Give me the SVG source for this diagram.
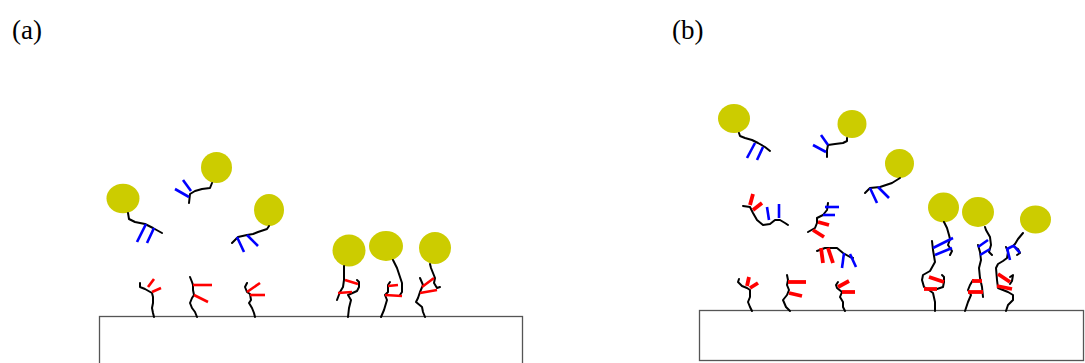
<svg xmlns="http://www.w3.org/2000/svg" width="1085" height="363" viewBox="0 0 1085 363">
  <style>
    .lbl { font-family: "Liberation Serif", "Times New Roman", serif; font-size: 27px; fill: #000; }
    .surf { fill: #fff; stroke: #555; stroke-width: 1.3; }
    .ball { fill: #cccc00; }
    .k { fill: none; stroke: #000; stroke-width: 2; stroke-linejoin: round; stroke-linecap: round; }
    .b { fill: none; stroke: #0000ff; stroke-width: 2.6; stroke-linecap: butt; }
    .r { fill: none; stroke: #ff0000; stroke-width: 2.6; stroke-linecap: butt; }
    .rt { fill: none; stroke: #ff0000; stroke-width: 3.8; stroke-linecap: butt; }
  </style>

  <!-- panel labels -->
  <text class="lbl" x="12" y="39">(a)</text>
  <text class="lbl" x="672" y="39">(b)</text>

  <!-- ===== panel (a) ===== -->
  <rect id="surface-a" class="surf" x="99.5" y="316.5" width="423" height="60"/>

  <!-- free labelled antibodies -->
  <g id="a-free-1">
    <ellipse class="ball" cx="123" cy="198.5" rx="16.5" ry="14.8"/>
    <polyline class="k" points="128,213 129,219 135,222 145,224 153,228 162,233"/>
    <line class="b" x1="146" y1="224" x2="137" y2="242"/>
    <line class="b" x1="154" y1="228" x2="147" y2="243"/>
  </g>
  <g id="a-free-2">
    <ellipse class="ball" cx="216.5" cy="167.5" rx="15.5" ry="15.5"/>
    <polyline class="k" points="212,183 210,188 202,189 195,191 190,194 189,203"/>
    <line class="b" x1="183" y1="180" x2="191" y2="191"/>
    <line class="b" x1="175" y1="189" x2="189" y2="197"/>
  </g>
  <g id="a-free-3">
    <ellipse class="ball" cx="269" cy="210" rx="15" ry="16"/>
    <polyline class="k" points="269,226 267,229 258,232 253,234 247,235 238,237 232,243"/>
    <line class="b" x1="237" y1="237" x2="244" y2="252"/>
    <line class="b" x1="247" y1="235" x2="258" y2="246"/>
  </g>

  <!-- immobilised capture molecules -->
  <g id="a-capture-1">
    <polyline class="k" points="140,283 140,287 145,289 152,293 153,297 153,303 152,308 153,313 154,317"/>
    <line class="r" x1="148" y1="287" x2="154" y2="279"/>
    <line class="r" x1="152" y1="292" x2="161" y2="288"/>
  </g>
  <g id="a-capture-2">
    <polyline class="k" points="190,277 192,282 193,285 193,290 194,295 192,298 190,303 192,308 195,312 197,317"/>
    <line class="r" x1="193" y1="285" x2="212" y2="285"/>
    <line class="r" x1="194" y1="295" x2="208" y2="302"/>
  </g>
  <g id="a-capture-3">
    <polyline class="k" points="247,283 245,287 247,292 250,294 251,300 249,303 252,308 254,313 255,317"/>
    <line class="r" x1="247" y1="292" x2="260" y2="283"/>
    <line class="r" x1="250" y1="295" x2="265" y2="295"/>
  </g>

  <!-- bound complexes -->
  <g id="a-bound-1">
    <ellipse class="ball" cx="349" cy="250.5" rx="16.5" ry="16"/>
    <polyline class="k" points="344,266 344,280 343,287 340,292 337,300"/>
    <polyline class="k" points="357,280 359,282 359,287 357,291 348,295 351,300 349,308 348,317"/>
    <line class="r" x1="345" y1="280" x2="358" y2="284"/>
    <line class="r" x1="338" y1="293" x2="352" y2="292"/>
  </g>
  <g id="a-bound-2">
    <ellipse class="ball" cx="386" cy="246" rx="17" ry="15"/>
    <polyline class="k" points="393,260 397,268 400,277 402,283 402,292 400,295"/>
    <polyline class="k" points="390,282 388,285 388,292 385,295 387,300 384,310 381,317"/>
    <line class="r" x1="388" y1="286" x2="398" y2="285"/>
    <line class="r" x1="385" y1="295" x2="402" y2="296"/>
  </g>
  <g id="a-bound-3">
    <ellipse class="ball" cx="435" cy="248" rx="16" ry="16"/>
    <polyline class="k" points="430,264 431,268 433,273 435,278 434,283 437,288 440,287"/>
    <polyline class="k" points="420,278 423,285 420,292 418,298 416,302 422,307 423,312 425,317"/>
    <line class="r" x1="422" y1="287" x2="434" y2="278"/>
    <line class="r" x1="420" y1="293" x2="437" y2="290"/>
  </g>

  <!-- ===== panel (b) ===== -->
  <rect id="surface-b" class="surf" x="699.5" y="310.5" width="384" height="50"/>

  <!-- free labelled antibodies -->
  <g id="b-free-1">
    <ellipse class="ball" cx="734" cy="118.5" rx="16" ry="14.5"/>
    <polyline class="k" points="739,133 740,136 745,138 752,140 758,143 765,147 770,151"/>
    <line class="b" x1="755" y1="143" x2="747" y2="158"/>
    <line class="b" x1="763" y1="147" x2="757" y2="160"/>
  </g>
  <g id="b-free-2">
    <ellipse class="ball" cx="852" cy="124" rx="14.5" ry="14"/>
    <polyline class="k" points="847,138 847,141 843,143 835,144 828,145 827,150 827,157"/>
    <line class="b" x1="821" y1="135" x2="828" y2="145"/>
    <line class="b" x1="813" y1="145" x2="826" y2="152"/>
  </g>
  <g id="b-free-3">
    <ellipse class="ball" cx="899.5" cy="163.5" rx="14.5" ry="14.5"/>
    <polyline class="k" points="900,178 892,183 880,187 870,188 865,193"/>
    <line class="b" x1="870" y1="188" x2="877" y2="203"/>
    <line class="b" x1="878" y1="187" x2="889" y2="198"/>
  </g>

  <!-- free complexes without label -->
  <g id="b-complex-1">
    <polyline class="k" points="743,206 750,207 753,213 757,220 763,225 770,224 775,220 780,220 785,223 788,225"/>
    <line class="rt" x1="753" y1="194" x2="750" y2="205"/>
    <line class="rt" x1="762" y1="203" x2="753" y2="210"/>
    <line class="b" x1="767" y1="207" x2="769" y2="220"/>
    <line class="b" x1="779" y1="204" x2="779" y2="218"/>
  </g>
  <g id="b-complex-2">
    <polyline class="k" points="828,203 827,210 823,215 817,218 817,223 815,228 808,232"/>
    <line class="b" x1="825" y1="207" x2="839" y2="207"/>
    <line class="b" x1="823" y1="215" x2="835" y2="215"/>
    <line class="rt" x1="818" y1="222" x2="829" y2="225"/>
    <line class="rt" x1="813" y1="230" x2="824" y2="237"/>
  </g>
  <g id="b-complex-3">
    <polyline class="k" points="817,251 825,248 837,248 843,253 850,257 853,258"/>
    <line class="rt" x1="821" y1="248" x2="823" y2="263"/>
    <line class="rt" x1="828" y1="248" x2="833" y2="263"/>
    <line class="b" x1="844" y1="253" x2="842" y2="268"/>
    <line class="b" x1="850" y1="254" x2="856" y2="267"/>
  </g>

  <!-- immobilised capture molecules -->
  <g id="b-capture-1">
    <polyline class="k" points="739,279 738,282 742,286 747,288 750,290 750,297 748,302 750,307 752,311"/>
    <line class="rt" x1="747" y1="286" x2="749" y2="277"/>
    <line class="rt" x1="750" y1="288" x2="758" y2="283"/>
  </g>
  <g id="b-capture-2">
    <polyline class="k" points="787,275 788,280 787,285 789,290 787,295 783,300 786,307 790,311"/>
    <line class="rt" x1="788" y1="282" x2="806" y2="282"/>
    <line class="rt" x1="789" y1="293" x2="802" y2="296"/>
  </g>
  <g id="b-capture-3">
    <polyline class="k" points="838,282 836,285 837,288 842,292 840,297 843,302 843,307 845,311"/>
    <line class="rt" x1="838" y1="287" x2="849" y2="281"/>
    <line class="rt" x1="842" y1="292" x2="855" y2="292"/>
  </g>

  <!-- bound complexes -->
  <g id="b-bound-1">
    <ellipse class="ball" cx="943.5" cy="207.5" rx="15.5" ry="15"/>
    <polyline class="k" points="944,222 947,228 949,235 950,239 948,245 952,251 950,255"/>
    <polyline class="k" points="932,241 933,250 935,262 930,271 923,275 922,280 924,287 929,290 933,293 935,302 935,311"/>
    <polyline class="k" points="942,275 944,277 944,282 943,287 937,289"/>
    <line class="b" x1="933" y1="248" x2="953" y2="238"/>
    <line class="b" x1="935" y1="255" x2="952" y2="248"/>
    <line class="rt" x1="929" y1="277" x2="944" y2="282"/>
    <line class="rt" x1="924" y1="289" x2="937" y2="289"/>
  </g>
  <g id="b-bound-2">
    <ellipse class="ball" cx="978" cy="212" rx="16" ry="15"/>
    <polyline class="k" points="985,227 986,230 990,237 991,245 989,252 992,255"/>
    <polyline class="k" points="978,245 980,252 981,260 979,268 980,278 982,287 983,297"/>
    <polyline class="k" points="973,280 970,285 968,290 971,295 968,302 965,311"/>
    <line class="b" x1="978" y1="247" x2="988" y2="240"/>
    <line class="b" x1="980" y1="255" x2="990" y2="249"/>
    <line class="rt" x1="972" y1="281" x2="982" y2="281"/>
    <line class="rt" x1="968" y1="292" x2="983" y2="292"/>
  </g>
  <g id="b-bound-3">
    <ellipse class="ball" cx="1035.5" cy="219.5" rx="15.5" ry="14"/>
    <polyline class="k" points="1023,233 1018,239 1015,244 1013,246 1018,249 1020,253 1017,255"/>
    <polyline class="k" points="1006,247 1008,252 1007,258 1003,261 998,264 996,268 997,280 998,288 1008,292 1013,295 1013,300 1008,305 1006,311"/>
    <polyline class="k" points="1010,277 1013,275 1012,281 1010,284"/>
    <line class="b" x1="1007" y1="248" x2="1010" y2="260"/>
    <line class="b" x1="1013" y1="245" x2="1020" y2="253"/>
    <line class="b" x1="1007" y1="249" x2="1013" y2="246"/>
    <line class="rt" x1="998" y1="274" x2="1010" y2="282"/>
    <line class="rt" x1="997" y1="286" x2="1012" y2="289"/>
  </g>
</svg>
